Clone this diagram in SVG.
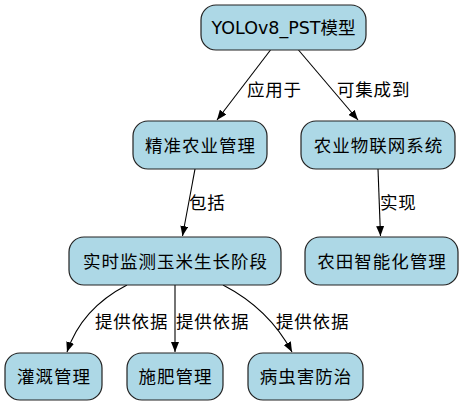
<svg xmlns="http://www.w3.org/2000/svg" width="465" height="407" viewBox="0 0 465 407">
<defs>
<marker id="ah" viewBox="0 0 10 8" refX="10" refY="4" markerWidth="10" markerHeight="8" markerUnits="userSpaceOnUse" orient="auto">
<path d="M0,0 L10,4 L0,8 Z" fill="#000"/>
</marker>
<style>
.n rect{fill:#add8e6;stroke:#222;stroke-width:1.2}
.n text{font-family:"DejaVu Sans","Noto Sans CJK SC",sans-serif;font-size:17.5px;text-anchor:middle;fill:#000;letter-spacing:1px}
#n1 text{letter-spacing:0}
.e path{fill:none;stroke:#000;stroke-width:1.1;marker-end:url(#ah)}
.e text{font-family:"DejaVu Sans","Noto Sans CJK SC",sans-serif;font-size:17.5px;fill:#000;letter-spacing:0.8px}
</style>
</defs>
<rect width="465" height="407" fill="#fff"/>
<g id="edges" class="e">
<path d="M270.5,50 L217,120"/>
<text x="247" y="96">应用于</text>
<path d="M298.5,50 L358,120"/>
<text x="337" y="96">可集成到</text>
<path d="M195,169 L182.5,236"/>
<text x="189" y="209">包括</text>
<path d="M378,169 L380.5,236"/>
<text x="380" y="209">实现</text>
<path d="M127,285 C98,300 77,322 67,352"/>
<text x="95" y="328">提供依据</text>
<path d="M175,285 L175,352"/>
<text x="176" y="328">提供依据</text>
<path d="M223,285 C252,300 276,322 292,352"/>
<text x="276" y="328">提供依据</text>
</g>
<g id="n1" class="n"><rect x="201" y="5" width="165" height="45" rx="15"/><text x="283.5" y="33.5">YOLOv8_PST模型</text></g>
<g id="n2" class="n"><rect x="133" y="121" width="134" height="48" rx="15"/><text x="200.5" y="151.5">精准农业管理</text></g>
<g id="n3" class="n"><rect x="301" y="121" width="154" height="48" rx="15"/><text x="378.5" y="151.5">农业物联网系统</text></g>
<g id="n4" class="n"><rect x="69" y="237" width="212" height="48" rx="15"/><text x="175.5" y="267.5">实时监测玉米生长阶段</text></g>
<g id="n5" class="n"><rect x="305" y="237" width="153" height="48" rx="15"/><text x="382" y="267.5">农田智能化管理</text></g>
<g id="n6" class="n"><rect x="5" y="353" width="97" height="47" rx="15"/><text x="54" y="383">灌溉管理</text></g>
<g id="n7" class="n"><rect x="127" y="353" width="96" height="47" rx="15"/><text x="175.5" y="383">施肥管理</text></g>
<g id="n8" class="n"><rect x="248" y="353" width="115" height="47" rx="15"/><text x="306" y="383">病虫害防治</text></g>
</svg>
